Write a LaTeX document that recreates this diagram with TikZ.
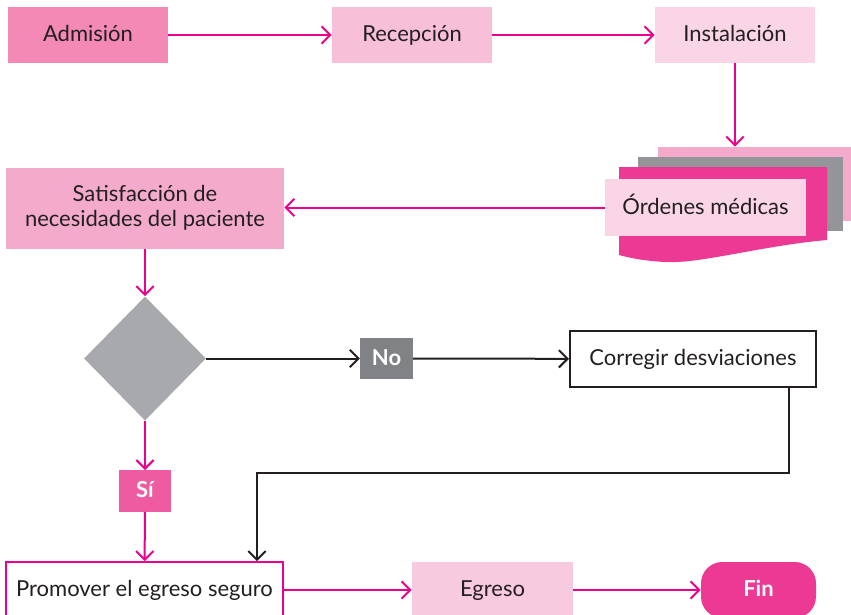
\documentclass[tikz,border=0pt]{standalone}
\usepackage{fontspec}
\setmainfont{Lato}
\usetikzlibrary{shapes.geometric,arrows.meta}
\definecolor{rosaA}{HTML}{F389B4}
\definecolor{rosaB}{HTML}{F7BFD8}
\definecolor{rosaC}{HTML}{FAD5E6}
\definecolor{rosaD}{HTML}{F4ABCB}
\definecolor{rosaE}{HTML}{F8CADF}
\definecolor{fucsia}{HTML}{EC3A94}
\definecolor{linea}{HTML}{EC008C}
\definecolor{grisA}{HTML}{A7A9AC}
\definecolor{grisB}{HTML}{808285}
\definecolor{grisC}{HTML}{939598}
\definecolor{texto}{HTML}{231F20}
\definecolor{siA}{HTML}{EE5BA0}
\tikzset{
  caja/.style={rectangle, inner sep=0pt, text=texto, font=\fontsize{16.5}{18.5}\selectfont, align=center},
  una/.style={text height=12pt, text depth=2.25pt},
  etiq/.style={rectangle, inner sep=0pt, text=white, font=\fontsize{16.5}{18.5}\selectfont\bfseries,
    minimum width=39.5pt, minimum height=31pt, una},
  flecha/.style={draw=linea, line width=1.5pt, -{Straight Barb[length=6.5pt,width=13pt]}},
  flechan/.style={draw=texto, line width=1.5pt, -{Straight Barb[length=6.5pt,width=13pt]}}
}
\begin{document}
\begin{tikzpicture}[x=0.75pt,y=-0.75pt]
  \useasboundingbox (0,0) rectangle (851,615);
  \node[caja, una, fill=rosaA, minimum width=120pt, minimum height=42pt] (adm) at (88,35) {Admisión};
  \node[caja, una, fill=rosaB, minimum width=120pt, minimum height=42pt] (rec) at (412,35) {Recepción};
  \node[caja, una, fill=rosaC, minimum width=120pt, minimum height=42pt] (ins) at (735,35) {Instalación};
  \node[fill=rosaD, minimum width=144.75pt, minimum height=55.5pt, inner sep=0pt] (ord3) at (754.5,184) {};
  \node[fill=grisC, minimum width=153.75pt, minimum height=55.5pt, inner sep=0pt] (ord2) at (740.5,194) {};
  \fill[fucsia] (619,167) -- (827,167) -- (827,240) .. controls (760,246) and (700,264) .. (665,262)
    .. controls (645,261) and (630,258) .. (619,255) -- cycle;
  \node[caja, una, fill=rosaC, minimum width=150.75pt, minimum height=42.75pt] (ord) at (705.5,207.5) {Órdenes médicas};
  \node[caja, fill=rosaD, minimum width=208.5pt, minimum height=60.75pt] (sat) at (145,208)
    {Satisfacción de\\necesidades del paciente};
  \node[diamond, fill=grisA, inner sep=0pt, minimum width=91.5pt, minimum height=93pt] (dec) at (145,358.5) {};
  \node[etiq, fill=grisB] (no) at (386.5,358.5) {No};
  \node[caja, una, draw=texto, line width=1.5pt, fill=white, minimum width=184.5pt, minimum height=42pt] (corr) at (693,359)
    {Corregir desviaciones};
  \node[etiq, fill=siA] (si) at (145,491) {Sí};
  \node[caja, una, draw=linea, line width=1.3pt, fill=white, minimum width=208pt, minimum height=42pt] (prom) at (144.5,590)
    {Promover el egreso seguro};
  \node[caja, una, fill=rosaE, minimum width=120.75pt, minimum height=42pt] (egr) at (492.5,590) {Egreso};
  \node[caja, una, fill=fucsia, text=white, font=\fontsize{16.5}{18.5}\selectfont\bfseries, rounded corners=16pt,
    minimum width=86.25pt, minimum height=42pt] (fin) at (758.5,590) {Fin};
  \coordinate (c1) at (789,473);
  \coordinate (c2) at (257,473);
  \draw[flecha] (adm) -- (rec);
  \draw[flecha] (rec) -- (ins);
  \draw[flecha] (ins.south) -- (ins.south |- ord3.north);
  \draw[flecha] (ord.west) -- (ord.west -| sat.east);
  \draw[flecha] (sat) -- (dec);
  \draw[flechan] (dec) -- (no);
  \draw[flechan] (no) -- (corr);
  \draw[flechan] (corr.south -| c1) -- (c1) -- (c2) -- (c2 |- prom.north);
  \draw[flecha] (dec) -- (si);
  \draw[flecha] (si) -- (prom);
  \draw[flecha] (prom) -- (egr);
  \draw[flecha] (egr) -- (fin);
\end{tikzpicture}
\end{document}
